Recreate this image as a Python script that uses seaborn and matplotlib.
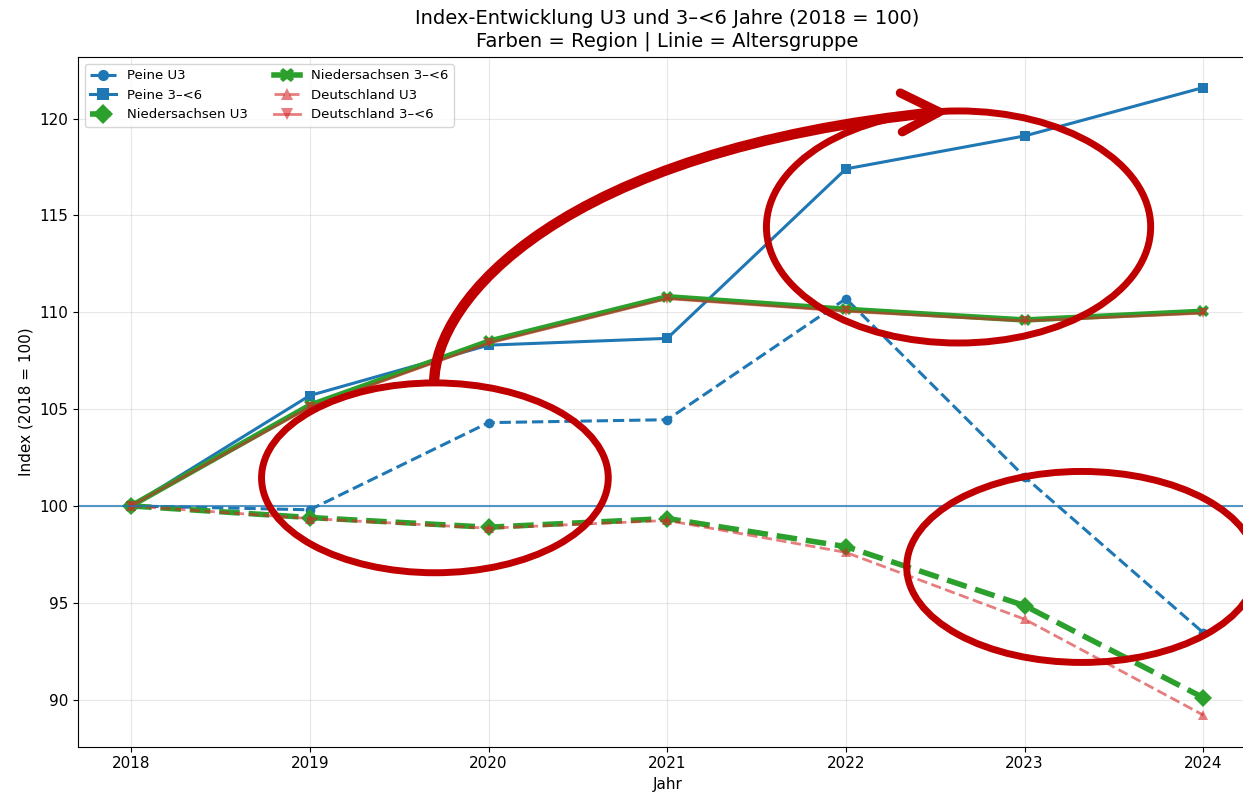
import numpy as np
import pandas as pd
import matplotlib
matplotlib.use("Agg")
import matplotlib.pyplot as plt
import seaborn as sn
from matplotlib.patches import Ellipse, PathPatch
from matplotlib.path import Path

# index values (2018 = 100)
jahre = [2018, 2019, 2020, 2021, 2022, 2023, 2024]
peine_u3 = [100.0, 99.8, 104.3, 104.45, 110.7, 101.5, 93.45]
peine_3_6 = [100.0, 105.7, 108.3, 108.65, 117.4, 119.1, 121.6]
nds_u3 = [100.0, 99.4, 98.9, 99.35, 97.9, 94.85, 90.1]
nds_3_6 = [100.0, 105.2, 108.5, 110.8, 110.15, 109.6, 110.05]
de_u3 = [100.0, 99.35, 98.85, 99.25, 97.6, 94.15, 89.2]
de_3_6 = [100.0, 105.1, 108.4, 110.7, 110.05, 109.55, 109.95]

df = pd.DataFrame({"Jahr": jahre,
                   "Peine U3": peine_u3, "Peine 3–<6": peine_3_6,
                   "Niedersachsen U3": nds_u3, "Niedersachsen 3–<6": nds_3_6,
                   "Deutschland U3": de_u3, "Deutschland 3–<6": de_3_6})

# style per series: color, linestyle, marker, linewidth, markersize, alpha
styles = {
    "Peine U3": ("tab:blue", "--", "o", 2.2, 7, 1.0),
    "Peine 3–<6": ("tab:blue", "-", "s", 2.2, 7, 1.0),
    "Niedersachsen U3": ("tab:green", "--", "D", 4.0, 9, 1.0),
    "Niedersachsen 3–<6": ("tab:green", "-", "X", 4.0, 9, 1.0),
    "Deutschland U3": ("tab:red", "--", "^", 2.0, 7, 0.6),
    "Deutschland 3–<6": ("tab:red", "-", "v", 2.0, 7, 0.6),
}

fig = plt.figure(figsize=(12.43, 7.97), dpi=100)
ax = fig.add_axes([78 / 1243, 1 - 746.7 / 797, (1257 - 78) / 1243, (746.7 - 57.3) / 797])

for name, (c, ls, mk, lw, ms, a) in styles.items():
    sn.lineplot(data=df, x="Jahr", y=name, ax=ax, color=c, linestyle=ls, marker=mk,
                linewidth=lw, markersize=ms, alpha=a, markeredgewidth=0, label=name)

ax.axhline(100, color="tab:blue", linewidth=1.5, alpha=0.75)

ax.set_xlim(2017.703, 2024.3)
ax.set_ylim(87.57, 123.16)
ax.set_xticks(jahre)
ax.set_yticks([90, 95, 100, 105, 110, 115, 120])
ax.tick_params(labelsize=11)
ax.grid(alpha=0.3)
ax.set_xlabel("Jahr", fontsize=11)
ax.set_ylabel("Index (2018 = 100)", fontsize=11)
ax.set_title("Index-Entwicklung U3 und 3–<6 Jahre (2018 = 100)\nFarben = Region | Linie = Altersgruppe",
             fontsize=14, pad=8)
ax.legend(ncol=2, fontsize=9.5, loc="upper left", markerscale=1.15)

# hand-drawn red highlights
rot = "#c00000"
for (cx, cy, w, h) in [(2019.70, 101.45, 1.94, 9.8), (2022.63, 114.4, 2.15, 11.98),
                        (2023.32, 96.85, 1.96, 9.86)]:
    ax.add_patch(Ellipse((cx, cy), w, h, fill=False, edgecolor=rot, linewidth=5, zorder=10))

bogen = Path([(2019.696, 106.35), (2019.696, 110.63), (2020.401, 118.38), (2022.522, 120.34)],
             [Path.MOVETO, Path.CURVE4, Path.CURVE4, Path.CURVE4])
ax.add_patch(PathPatch(bogen, fill=False, edgecolor=rot, linewidth=7.5, capstyle="butt", zorder=10))
ax.plot([2022.304, 2022.522, 2022.315], [121.32, 120.34, 119.31], color=rot, linewidth=6.5,
        solid_capstyle="round", solid_joinstyle="miter", zorder=10)

plt.savefig("out.png", dpi=100)
